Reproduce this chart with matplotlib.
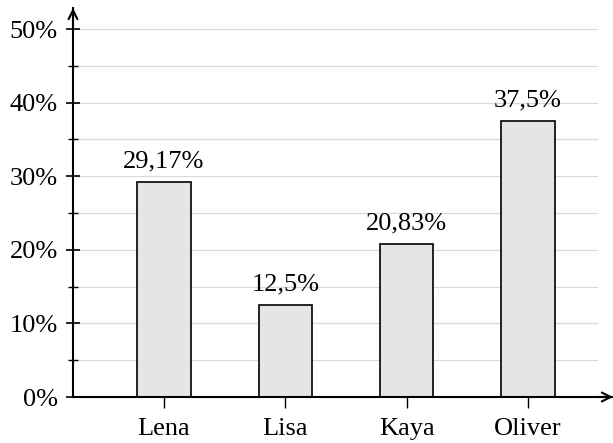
import matplotlib.pyplot as plt
from matplotlib.ticker import MultipleLocator

names = ['Lena', 'Lisa', 'Kaya', 'Oliver']
shares = [29.17, 12.5, 20.83, 37.5]
labels = ['29,17%', '12,5%', '20,83%', '37,5%']
yticks = [0, 10, 20, 30, 40, 50]

plt.rcParams['font.family'] = ['Liberation Serif', 'DejaVu Serif']

fig = plt.figure(figsize=(6.13, 4.43), dpi=100)
ax = fig.add_axes([73 / 613, 1 - 397 / 443, 1 - 73 / 613, (397 - 8) / 443])

x = list(range(len(names)))
ax.set_xlim(-0.75, 3.70)
ax.set_ylim(0, (397 - 8) / 7.36)

# light grid every 5 %
for g in range(5, 55, 5):
    ax.axhline(g, xmin=0, xmax=0.97, color='#d9d9d9', lw=0.9, zorder=0)

bars = ax.bar(x, shares, width=0.44, color='#e5e5e5', edgecolor='black',
              linewidth=1.2, zorder=2)
for b, lab in zip(bars, labels):
    ax.annotate(lab, (b.get_x() + b.get_width() / 2, b.get_height()),
                xytext=(0, 7), textcoords='offset points',
                ha='center', va='bottom', fontsize=19)

ax.set_xticks(x)
ax.set_xticklabels(names, fontsize=19)
ax.set_yticks(yticks)
ax.set_yticklabels([f'{t}%' for t in yticks], fontsize=19)
ax.yaxis.set_minor_locator(MultipleLocator(5))

ax.tick_params(axis='y', which='major', direction='inout', length=10, width=1.2, pad=6)
ax.tick_params(axis='y', which='minor', direction='inout', length=7, width=1.0)
ax.tick_params(axis='x', direction='out', length=8, width=1.0, pad=7)

for s in ['top', 'right']:
    ax.spines[s].set_visible(False)
for s in ['left', 'bottom']:
    ax.spines[s].set_linewidth(1.5)
    ax.spines[s].set_zorder(3)

# arrow heads at the ends of the axes
ax.annotate('', xy=(0, 1.0), xycoords='axes fraction', xytext=(0, 0.95),
            arrowprops=dict(arrowstyle='->', lw=1.5, mutation_scale=16, shrinkA=0, shrinkB=0))
ax.annotate('', xy=(1.0, 0), xycoords='axes fraction', xytext=(0.97, 0),
            arrowprops=dict(arrowstyle='->', lw=1.5, mutation_scale=16, shrinkA=0, shrinkB=0))

fig.savefig('out.png', dpi=100)
